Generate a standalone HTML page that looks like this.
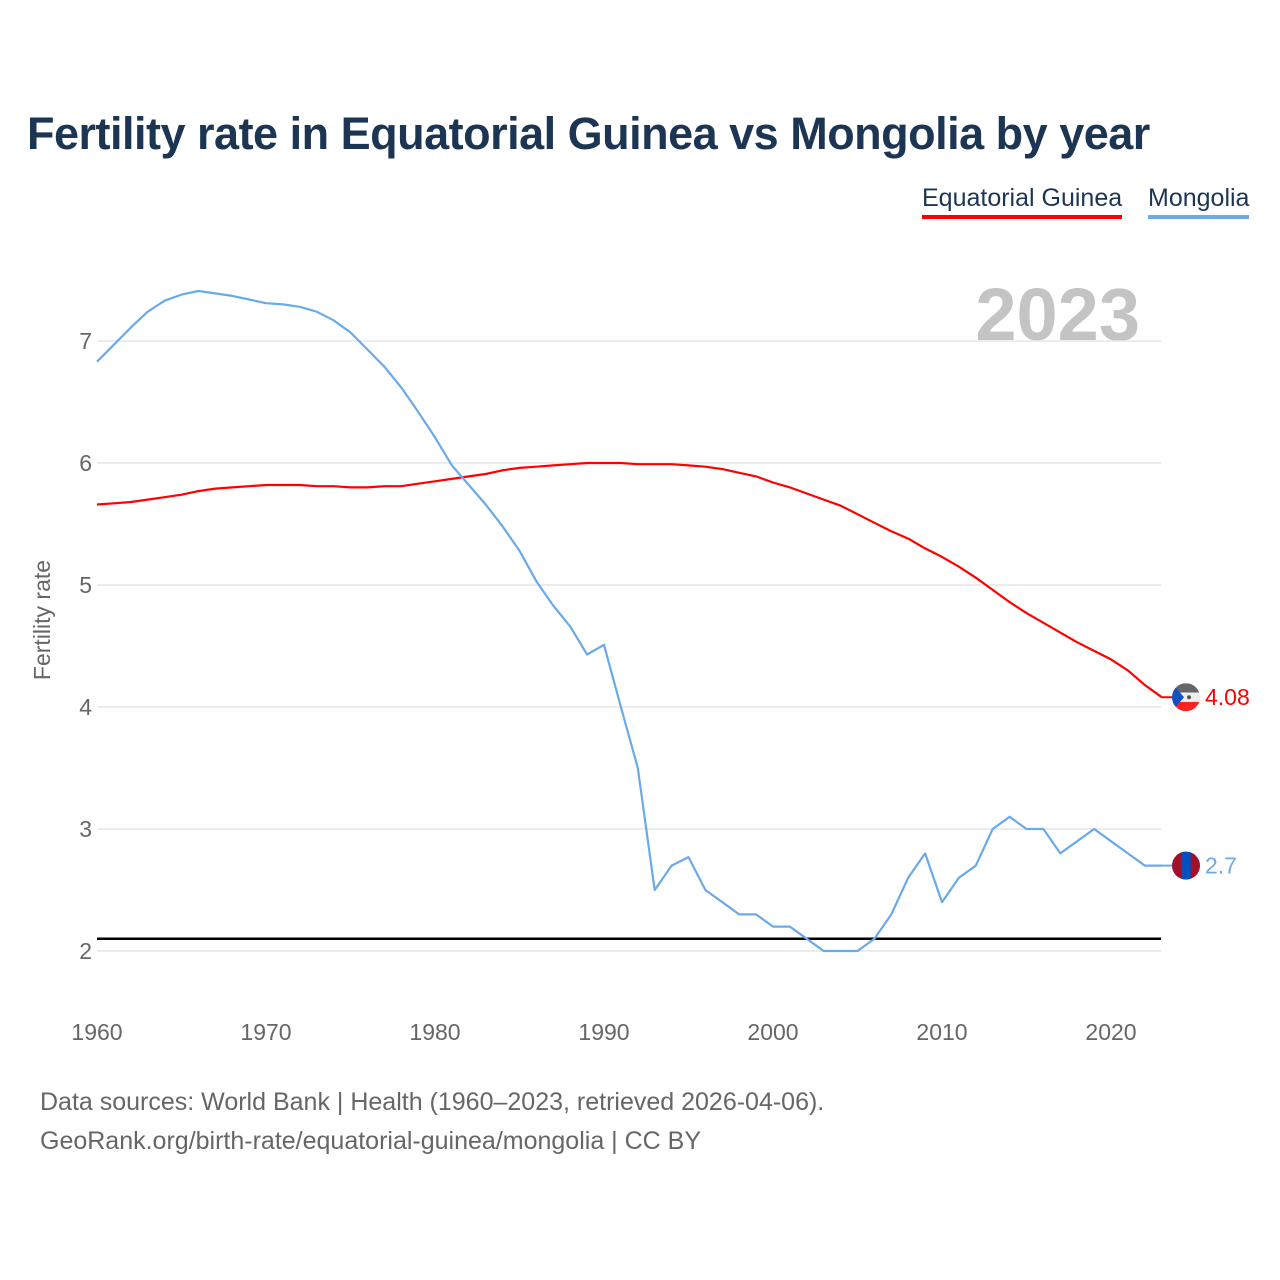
<!DOCTYPE html>
<html><head><meta charset="utf-8">
<style>
body{margin:0;background:#fff;font-family:"Liberation Sans",sans-serif;}
#wrap{position:relative;width:1280px;height:1280px;overflow:hidden;}
h1{position:absolute;left:27px;top:108px;margin:0;font-size:45px;font-weight:bold;color:#1c3553;letter-spacing:-0.5px;}
.leg{position:absolute;top:184px;font-size:25px;color:#1c3553;padding-bottom:2px;}
.src{position:absolute;left:40px;font-size:25px;color:#666;}
</style></head><body>
<div id="wrap">
<h1>Fertility rate in Equatorial Guinea vs Mongolia by year</h1>
<div class="leg" style="left:922px;border-bottom:4px solid #f00">Equatorial Guinea</div>
<div class="leg" style="left:1148px;border-bottom:4px solid #6aaae8">Mongolia</div>
<svg id="chart" width="1280" height="1280" style="position:absolute;left:0;top:0"></svg>
<div class="src" style="top:1088px">Data sources: World Bank | Health (1960–2023, retrieved 2026-04-06).</div>
<div class="src" style="top:1127px">GeoRank.org/birth-rate/equatorial-guinea/mongolia | CC BY</div>
</div>
<script>
const years=[];for(let y=1960;y<=2023;y++)years.push(y);
const eqGuinea=[5.66,5.67,5.68,5.70,5.72,5.74,5.77,5.79,5.80,5.81,5.82,5.82,5.82,5.81,5.81,5.80,5.80,5.81,5.81,5.83,5.85,5.87,5.89,5.91,5.94,5.96,5.97,5.98,5.99,6.00,6.00,6.00,5.99,5.99,5.99,5.98,5.97,5.95,5.92,5.89,5.84,5.80,5.75,5.70,5.65,5.58,5.51,5.44,5.38,5.30,5.23,5.15,5.06,4.96,4.86,4.77,4.69,4.61,4.53,4.46,4.39,4.30,4.18,4.08];
const mongolia=[6.83,6.97,7.11,7.24,7.33,7.38,7.41,7.39,7.37,7.34,7.31,7.30,7.28,7.24,7.17,7.07,6.93,6.79,6.62,6.42,6.21,5.98,5.82,5.66,5.48,5.28,5.03,4.83,4.66,4.43,4.51,4.0,3.5,2.5,2.7,2.77,2.5,2.4,2.3,2.3,2.2,2.2,2.1,2.0,2.0,2.0,2.1,2.3,2.6,2.8,2.4,2.6,2.7,3.0,3.1,3.0,3.0,2.8,2.9,3.0,2.9,2.8,2.7,2.7];
const yTicks=[2,3,4,5,6,7];
const xTicks=[1960,1970,1980,1990,2000,2010,2020];
const replacement=[2.1];
const X=y=>97+(y-1960)*(1111-97)/60;
const Y=v=>951-(v-2)*122;
const svg=document.getElementById('chart');const NS='http://www.w3.org/2000/svg';
function el(t,a,txt){const e=document.createElementNS(NS,t);for(const k in a)e.setAttribute(k,a[k]);if(txt!==undefined)e.textContent=txt;svg.appendChild(e);return e;}
let e=el('text',{x:1140,y:340,'text-anchor':'end','font-size':74,'font-weight':'bold',fill:'#c4c4c4','font-family':'Liberation Sans'},'2023');


yTicks.forEach(v=>{
 let g=el('line',{x1:97,x2:1161,y1:Y(v),y2:Y(v),stroke:'#e6e6e6','stroke-width':1.5});
 
 
 let t=el('text',{x:92,y:Y(v)+8,'text-anchor':'end','font-size':23,fill:'#666'},String(v));
 
 
});
xTicks.forEach(y=>{
 let t=el('text',{x:X(y),y:1040,'text-anchor':'middle','font-size':23,fill:'#666'},String(y));
 
 
});
let yt=el('text',{transform:'translate(50,620) rotate(-90)','text-anchor':'middle','font-size':23,fill:'#666'},'Fertility rate');


replacement.forEach(v=>{
 let l=el('line',{x1:97,x2:1161,y1:Y(v),y2:Y(v),stroke:'#000','stroke-width':2.5});
 
 
});
function series(vals,color,name){
 const d=vals.map((v,i)=>(i?'L':'M')+X(years[i]).toFixed(1)+','+Y(v).toFixed(1)).join(' ');
 let p=el('path',{d:d,fill:'none',stroke:color,'stroke-width':2.2,'stroke-linejoin':'round'});
 
 
 const last=vals[vals.length-1];const ly=Y(last);
 let s=el('line',{x1:X(2023),x2:1175,y1:ly,y2:ly,stroke:color,'stroke-width':2});
 return ly;
}
const ly1=series(eqGuinea,'#ff0000','equatorial-guinea');
const ly2=series(mongolia,'#6aaae8','mongolia');
// flags
let defs=el('defs',{});
defs.innerHTML='<clipPath id="c1"><circle cx="1186" cy="'+ly1+'" r="14"/></clipPath><clipPath id="c2"><circle cx="1186" cy="'+ly2+'" r="14"/></clipPath>';
let f1=el('g',{'clip-path':'url(#c1)'});


f1.innerHTML='<rect x="1172" y="'+(ly1-14)+'" width="28" height="9.3" fill="#666"/><rect x="1172" y="'+(ly1-4.7)+'" width="28" height="9.4" fill="#eee"/><rect x="1172" y="'+(ly1+4.7)+'" width="28" height="9.3" fill="#f22"/><polygon points="1172,'+(ly1-14)+' 1184,'+ly1+' 1172,'+(ly1+14)+'" fill="#1050c0"/><circle cx="1189" cy="'+ly1+'" r="2" fill="#555"/>';
let f2=el('g',{'clip-path':'url(#c2)'});


f2.innerHTML='<rect x="1172" y="'+(ly2-14)+'" width="28" height="28" fill="#a0102a"/><rect x="1181.3" y="'+(ly2-14)+'" width="9.4" height="28" fill="#0050c0"/>';
let v1=el('text',{x:1205,y:ly1+8,'font-size':23,fill:'#ff0000'},eqGuinea[eqGuinea.length-1].toFixed(2));


let v2=el('text',{x:1205,y:ly2+8,'font-size':23,fill:'#6aaae8'},String(mongolia[mongolia.length-1]));


</script>
</body></html>
